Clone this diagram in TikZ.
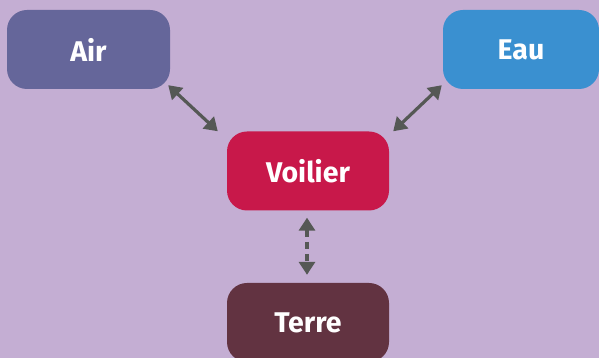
\documentclass[tikz,border=0pt]{standalone}
\usepackage{fontspec}
\setmainfont{Fira Sans}
\usetikzlibrary{arrows.meta,calc}
\definecolor{bg}{HTML}{C4AED3}
\definecolor{airc}{HTML}{65669A}
\definecolor{eauc}{HTML}{3A90D0}
\definecolor{voilc}{HTML}{C8184A}
\definecolor{terrec}{HTML}{623341}
\definecolor{arrc}{HTML}{555855}
\begin{document}
\begin{tikzpicture}[x=1pt,y=1pt,
  box/.style={rounded corners=20pt,minimum height=79pt,text=white,font=\fontsize{28.5}{32}\selectfont\bfseries,inner sep=0pt},
  link/.style={draw=arrc,line width=3.2pt,{Triangle[length=13pt,width=16pt]}-{Triangle[length=13pt,width=16pt]}}]
\fill[bg] (0,0) rectangle (599,358);
\useasboundingbox (0,0) rectangle (599,358);
\node[box,fill=airc,minimum width=163pt] (air) at (88.5,308.5) {Air};
\node[box,fill=eauc,minimum width=156pt] (eau) at (521,308.5) {Eau};
\node[box,fill=voilc,minimum width=162pt] (voil) at (308,187) {Voilier};
\node[box,fill=terrec,minimum width=162pt] (terre) at (308,35.5) {Terre};
\draw[link] ($(air.south east)+(-2,4)$) -- ($(voil.north west)+(-9,0)$);
\draw[link] ($(eau.south west)+(-1,4)$) -- ($(voil.north east)+(4,0)$);
\draw[link,dash pattern=on 7pt off 5pt] ($(voil.south)+(-1,-7)$) -- ($(terre.north)+(-1,8)$);
\end{tikzpicture}
\end{document}
